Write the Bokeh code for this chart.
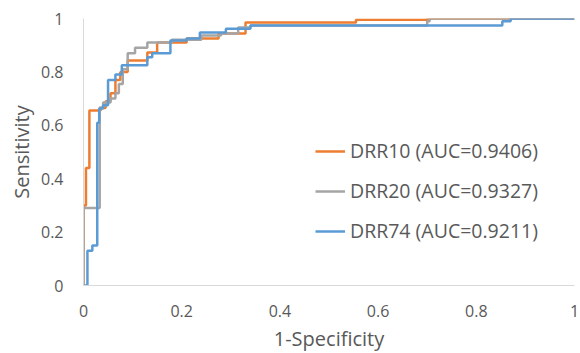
from bokeh.plotting import figure
from bokeh.models import FixedTicker, Legend, LegendItem, Range1d
from bokeh.embed import file_html
from bokeh.resources import INLINE

# ROC step corners (1-Specificity, Sensitivity)
drr10_fpr = [0, 0, 0.005, 0.005, 0.012, 0.012, 0.035, 0.035, 0.045, 0.045, 0.055, 0.055,
             0.065, 0.065, 0.075, 0.075, 0.09, 0.09, 0.13, 0.13, 0.15, 0.15, 0.21, 0.21,
             0.275, 0.275, 0.33, 0.33, 0.555, 0.555, 0.70, 0.70, 1.0]
drr10_tpr = [0, 0.30, 0.30, 0.44, 0.44, 0.655, 0.655, 0.665, 0.665, 0.69, 0.69, 0.72,
             0.72, 0.77, 0.77, 0.80, 0.80, 0.843, 0.843, 0.873, 0.873, 0.91, 0.91, 0.925,
             0.925, 0.944, 0.944, 0.985, 0.985, 0.995, 0.995, 1.0, 1.0]

drr20_fpr = [0, 0, 0.033, 0.033, 0.04, 0.04, 0.055, 0.055, 0.065, 0.065, 0.072, 0.072,
             0.08, 0.08, 0.09, 0.09, 0.105, 0.105, 0.13, 0.13, 0.18, 0.18, 0.24, 0.24,
             0.28, 0.28, 0.315, 0.315, 0.34, 0.34, 0.70, 0.70, 0.705, 0.705, 1.0]
drr20_tpr = [0, 0.29, 0.29, 0.667, 0.667, 0.685, 0.685, 0.70, 0.70, 0.72, 0.72, 0.755,
             0.755, 0.81, 0.81, 0.87, 0.87, 0.89, 0.89, 0.91, 0.91, 0.92, 0.92, 0.936,
             0.936, 0.944, 0.944, 0.966, 0.966, 0.974, 0.974, 0.99, 0.99, 1.0, 1.0]

drr74_fpr = [0, 0.008, 0.008, 0.018, 0.018, 0.028, 0.028, 0.032, 0.032, 0.04, 0.04, 0.05,
             0.05, 0.065, 0.065, 0.078, 0.078, 0.13, 0.13, 0.14, 0.14, 0.177, 0.177, 0.21,
             0.21, 0.237, 0.237, 0.29, 0.29, 0.34, 0.34, 0.853, 0.853, 0.87, 0.87, 1.0]
drr74_tpr = [0, 0, 0.13, 0.13, 0.15, 0.15, 0.61, 0.61, 0.663, 0.663, 0.675, 0.675,
             0.77, 0.77, 0.79, 0.79, 0.825, 0.825, 0.855, 0.855, 0.87, 0.87, 0.918, 0.918,
             0.925, 0.925, 0.948, 0.948, 0.962, 0.962, 0.974, 0.974, 0.99, 0.99, 1.0, 1.0]

labels = ["DRR10 (AUC=0.9406)", "DRR20 (AUC=0.9327)", "DRR74 (AUC=0.9211)"]
colors = ["#ED7D31", "#A5A5A5", "#5B9BD5"]
ticks = [0, 0.2, 0.4, 0.6, 0.8, 1.0]
tick_labels = {0: "0", 0.2: "0.2", 0.4: "0.4", 0.6: "0.6", 0.8: "0.8", 1: "1"}

FONT = "Open Sans"
TXT = "#595959"

p = figure(width=580, height=353, output_backend="svg", toolbar_location=None,
           x_range=Range1d(0, 1), y_range=Range1d(0, 1),
           min_border_left=83, min_border_right=6, min_border_top=18, min_border_bottom=68)
p.frame_width = 491
p.frame_height = 267
p.outline_line_color = None
p.grid.visible = False

for ax, title in ((p.xaxis[0], "1-Specificity"), (p.yaxis[0], "Sensitivity")):
    ax.ticker = FixedTicker(ticks=ticks)
    ax.major_label_overrides = tick_labels
    ax.axis_line_color = "#D9D9D9"
    ax.axis_line_width = 1
    ax.major_tick_line_color = None
    ax.minor_tick_line_color = None
    ax.major_label_text_font = FONT
    ax.major_label_text_font_size = "16px"
    ax.major_label_text_color = TXT
    ax.axis_label = title
    ax.axis_label_text_font = FONT
    ax.axis_label_text_font_size = "20px"
    ax.axis_label_text_font_style = "normal"
    ax.axis_label_text_color = TXT
p.xaxis.major_label_standoff = 13
p.yaxis.major_label_standoff = 14
p.xaxis.axis_label_standoff = 5
p.yaxis.axis_label_standoff = 3

series = [(drr10_fpr, drr10_tpr), (drr20_fpr, drr20_tpr), (drr74_fpr, drr74_tpr)]
items = []
for (xs, ys), lab, col in zip(series, labels, colors):
    r = p.line(xs, ys, line_color=col, line_width=2.5)
    items.append(LegendItem(label=lab, renderers=[r]))

legend = Legend(items=items, location=(232, 41), orientation="vertical",
                border_line_color=None, background_fill_alpha=0,
                padding=0, margin=0, spacing=13, glyph_width=30, glyph_height=20,
                label_height=20, label_standoff=5,
                label_text_font=FONT, label_text_font_size="19.5px", label_text_color=TXT)
p.add_layout(legend)

open("out.html", "w").write(file_html(p, INLINE))
